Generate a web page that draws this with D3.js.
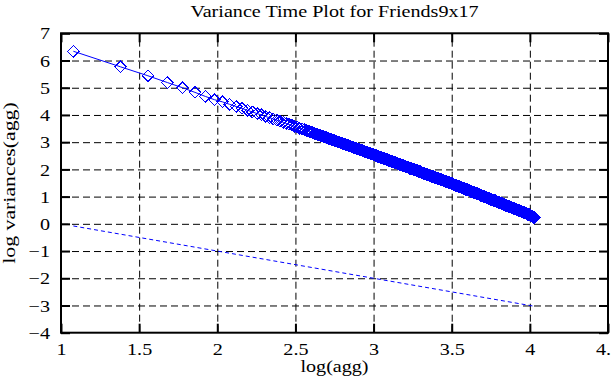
<!DOCTYPE html>
<html lang="en">
<head>
<meta charset="UTF-8">
<title>Variance Time Plot for Friends9x17</title>
<script src="https://d3js.org/d3.v7.min.js"></script>
<style>
body { margin: 0; background: #fff; }
</style>
</head>
<body>
<div id="chart"></div>
<script>
    // tick values
    const xTicks = [1, 1.5, 2, 2.5, 3, 3.5, 4, 4.5]
    const yTicks = [-4, -3, -2, -1, 0, 1, 2, 3, 4, 5, 6, 7]

    // log(agg) of every plotted point
    const logAgg = [
        1.079, 1.380, 1.556, 1.681, 1.778, 1.857, 1.924, 1.982, 2.033, 2.079,
        2.121, 2.158, 2.193, 2.225, 2.255, 2.283, 2.310, 2.335, 2.358, 2.380,
        2.401, 2.422, 2.441, 2.459, 2.477, 2.494, 2.511, 2.526, 2.542, 2.556,
        2.57, 2.58, 2.59, 2.60, 2.61, 2.62, 2.63, 2.64, 2.65, 2.66,
        2.67, 2.68, 2.69, 2.70, 2.71, 2.72, 2.73, 2.74, 2.75, 2.76,
        2.77, 2.78, 2.79, 2.80, 2.81, 2.82, 2.83, 2.84, 2.85, 2.86,
        2.87, 2.88, 2.89, 2.90, 2.91, 2.92, 2.93, 2.94, 2.95, 2.96,
        2.97, 2.98, 2.99,
        3.000, 3.005, 3.010, 3.015, 3.020, 3.025, 3.030, 3.035, 3.040, 3.045,
        3.050, 3.055, 3.060, 3.065, 3.070, 3.075, 3.080, 3.085, 3.090, 3.095,
        3.100, 3.105, 3.110, 3.115, 3.120, 3.125, 3.130, 3.135, 3.140, 3.145,
        3.150, 3.155, 3.160, 3.165, 3.170, 3.175, 3.180, 3.185, 3.190, 3.195,
        3.200, 3.205, 3.210, 3.215, 3.220, 3.225, 3.230, 3.235, 3.240, 3.245,
        3.250, 3.255, 3.260, 3.265, 3.270, 3.275, 3.280, 3.285, 3.290, 3.295,
        3.300, 3.305, 3.310, 3.315, 3.320, 3.325, 3.330, 3.335, 3.340, 3.345,
        3.350, 3.355, 3.360, 3.365, 3.370, 3.375, 3.380, 3.385, 3.390, 3.395,
        3.400, 3.405, 3.410, 3.415, 3.420, 3.425, 3.430, 3.435, 3.440, 3.445,
        3.450, 3.455, 3.460, 3.465, 3.470, 3.475, 3.480, 3.485, 3.490, 3.495,
        3.500, 3.505, 3.510, 3.515, 3.520, 3.525, 3.530, 3.535, 3.540, 3.545,
        3.550, 3.555, 3.560, 3.565, 3.570, 3.575, 3.580, 3.585, 3.590, 3.595,
        3.600, 3.605, 3.610, 3.615, 3.620, 3.625, 3.630, 3.635, 3.640, 3.645,
        3.650, 3.655, 3.660, 3.665, 3.670, 3.675, 3.680, 3.685, 3.690, 3.695,
        3.700, 3.705, 3.710, 3.715, 3.720, 3.725, 3.730, 3.735, 3.740, 3.745,
        3.750, 3.755, 3.760, 3.765, 3.770, 3.775, 3.780, 3.785, 3.790, 3.795,
        3.800, 3.805, 3.810, 3.815, 3.820, 3.825, 3.830, 3.835, 3.840, 3.845,
        3.850, 3.855, 3.860, 3.865, 3.870, 3.875, 3.880, 3.885, 3.890, 3.895,
        3.900, 3.905, 3.910, 3.915, 3.920, 3.925, 3.930, 3.935, 3.940, 3.945,
        3.950, 3.955, 3.960, 3.965, 3.970, 3.975, 3.980, 3.985, 3.990, 3.995,
        4.000, 4.005, 4.010, 4.015, 4.020, 4.025, 4.030
    ]

    // log variances(agg), same order as logAgg
    const logVar = [
        6.34, 5.77, 5.44, 5.19, 5.00, 4.83, 4.68, 4.56, 4.48, 4.39,
        4.31, 4.24, 4.17, 4.11, 4.05, 4.00, 3.94, 3.90, 3.85, 3.81,
        3.77, 3.73, 3.69, 3.65, 3.62, 3.58, 3.55, 3.52, 3.49, 3.46,
        3.43, 3.41, 3.39, 3.36, 3.35, 3.32, 3.30, 3.29, 3.26, 3.24,
        3.22, 3.21, 3.18, 3.16, 3.14, 3.12, 3.10, 3.07, 3.06, 3.03,
        3.01, 3.00, 2.97, 2.95, 2.93, 2.92, 2.89, 2.87, 2.85, 2.82,
        2.81, 2.79, 2.77, 2.74, 2.73, 2.70, 2.69, 2.66, 2.64, 2.63,
        2.60, 2.58, 2.56,
        2.54, 2.53, 2.52, 2.51, 2.50, 2.48, 2.47, 2.47, 2.46, 2.44,
        2.43, 2.43, 2.42, 2.40, 2.39, 2.38, 2.37, 2.36, 2.35, 2.34,
        2.33, 2.32, 2.31, 2.29, 2.28, 2.28, 2.27, 2.25, 2.24, 2.23,
        2.22, 2.21, 2.20, 2.19, 2.18, 2.17, 2.16, 2.15, 2.14, 2.13,
        2.12, 2.10, 2.09, 2.09, 2.08, 2.06, 2.05, 2.04, 2.03, 2.02,
        2.01, 2.00, 1.99, 1.98, 1.97, 1.96, 1.95, 1.93, 1.92, 1.92,
        1.91, 1.89, 1.88, 1.87, 1.86, 1.85, 1.84, 1.83, 1.82, 1.81,
        1.80, 1.79, 1.78, 1.76, 1.75, 1.75, 1.74, 1.72, 1.71, 1.70,
        1.69, 1.68, 1.67, 1.66, 1.65, 1.64, 1.63, 1.62, 1.61, 1.60,
        1.59, 1.57, 1.56, 1.56, 1.55, 1.53, 1.52, 1.51, 1.50, 1.49,
        1.48, 1.47, 1.46, 1.44, 1.43, 1.42, 1.41, 1.40, 1.39, 1.37,
        1.36, 1.35, 1.34, 1.33, 1.32, 1.31, 1.30, 1.28, 1.27, 1.26,
        1.25, 1.24, 1.23, 1.21, 1.20, 1.19, 1.18, 1.17, 1.16, 1.14,
        1.13, 1.12, 1.11, 1.10, 1.09, 1.08, 1.07, 1.05, 1.04, 1.03,
        1.02, 1.01, 1.00, 0.98, 0.97, 0.96, 0.95, 0.94, 0.93, 0.91,
        0.90, 0.89, 0.88, 0.87, 0.86, 0.85, 0.84, 0.82, 0.81, 0.80,
        0.79, 0.78, 0.77, 0.75, 0.74, 0.73, 0.72, 0.71, 0.70, 0.68,
        0.67, 0.66, 0.65, 0.64, 0.63, 0.62, 0.61, 0.59, 0.58, 0.57,
        0.56, 0.55, 0.54, 0.52, 0.51, 0.50, 0.49, 0.48, 0.47, 0.46,
        0.45, 0.43, 0.42, 0.41, 0.40, 0.39, 0.38, 0.36, 0.35, 0.34,
        0.33, 0.31, 0.29, 0.28, 0.26, 0.24, 0.22
    ]

    // slope -1 reference line
    const refLogAgg = [1.079, 4.03]
    const refLogVar = [-0.079, -3.03]

    const width = 611
    const height = 388
    const fontFamily = '"Liberation Serif", "Times New Roman", "DejaVu Serif", serif'
    const fontSize = 17.5
    const stretch = 1.15

    const x = d3.scaleLinear().domain([1, 4.5]).range([61, 608])
    const y = d3.scaleLinear().domain([-4, 7]).range([332.7, 33.3])
    const plotW = x(4.5) - x(1)
    const plotH = y(-4) - y(7)

    const svg = d3.select('#chart')
        .append('svg')
        .attr('width', width)
        .attr('height', height)

    // 网格线
    svg.append('g')
        .attr('transform', 'translate(0,' + y(-4) + ')')
        .call(d3.axisBottom(x).tickValues(xTicks.slice(1, -1)).tickSize(-plotH).tickFormat(''))
        .call(g => g.select('.domain').remove())
        .selectAll('line')
        .attr('stroke', '#000')
        .attr('stroke-dasharray', '7,4')

    svg.append('g')
        .attr('transform', 'translate(' + x(1) + ',0)')
        .call(d3.axisLeft(y).tickValues(yTicks.slice(1, -1)).tickSize(-plotW).tickFormat(''))
        .call(g => g.select('.domain').remove())
        .selectAll('line')
        .attr('stroke', '#000')
        .attr('stroke-dasharray', '7,4')

    // 参考线
    const refPts = refLogAgg.map((d, i) => [d, refLogVar[i]])
    svg.append('path')
        .datum(refPts)
        .attr('fill', 'none')
        .attr('stroke', '#0000ff')
        .attr('stroke-width', 1)
        .attr('stroke-dasharray', '4,3')
        .attr('d', d3.line().x(d => x(d[0])).y(d => y(d[1])))

    // 数据
    const pts = logAgg.map((d, i) => [d, logVar[i]])
    svg.append('path')
        .datum(pts)
        .attr('fill', 'none')
        .attr('stroke', '#0000ff')
        .attr('stroke-width', 1)
        .attr('d', d3.line().x(d => x(d[0])).y(d => y(d[1])))

    const r = 5.8
    const diamond = 'M0,' + (-r) + 'L' + r + ',0L0,' + r + 'L' + (-r) + ',0Z'
    svg.append('g')
        .selectAll('path')
        .data(pts)
        .enter()
        .append('path')
        .attr('d', diamond)
        .attr('transform', d => 'translate(' + x(d[0]) + ',' + y(d[1]) + ')')
        .attr('fill', 'none')
        .attr('stroke', '#0000ff')
        .attr('stroke-width', 1)
        .attr('shape-rendering', 'crispEdges')

    // 边框
    svg.append('rect')
        .attr('x', x(1))
        .attr('y', y(7))
        .attr('width', plotW)
        .attr('height', plotH)
        .attr('fill', 'none')
        .attr('stroke', '#000')
        .attr('stroke-width', 2)

    const tickLen = 9
    const fmt = d3.format('')

    function styleAxis(g) {
        g.select('.domain').remove()
        g.attr('font-family', fontFamily).attr('font-size', fontSize)
        g.selectAll('line').attr('stroke', '#000').attr('stroke-width', 2)
        g.selectAll('text')
            .attr('fill', '#000')
            .style('font-family', fontFamily)
            .style('font-size', fontSize + 'px')
            .attr('transform', 'scale(' + stretch + ',1)')
    }

    svg.append('g')
        .attr('transform', 'translate(0,' + y(-4) + ')')
        .call(d3.axisBottom(x).tickValues(xTicks).tickSize(-tickLen).tickPadding(10).tickFormat(fmt))
        .call(styleAxis)

    svg.append('g')
        .attr('transform', 'translate(0,' + y(7) + ')')
        .call(d3.axisTop(x).tickValues(xTicks).tickSize(-tickLen).tickFormat(''))
        .call(styleAxis)

    svg.append('g')
        .attr('transform', 'translate(' + x(1) + ',0)')
        .call(d3.axisLeft(y).tickValues(yTicks).tickSize(-tickLen).tickPadding(9.6).tickFormat(fmt))
        .call(styleAxis)

    svg.append('g')
        .attr('transform', 'translate(' + x(4.5) + ',0)')
        .call(d3.axisRight(y).tickValues(yTicks).tickSize(-tickLen).tickFormat(''))
        .call(styleAxis)

    // 标题和轴标签
    function label(txt, transform, size) {
        svg.append('text')
            .attr('text-anchor', 'middle')
            .attr('transform', transform)
            .attr('fill', '#000')
            .style('font-family', fontFamily)
            .style('font-size', size + 'px')
            .text(txt)
    }

    const cx = (x(1) + x(4.5)) / 2
    label('Variance Time Plot for Friends9x17', 'translate(' + cx + ',17) scale(' + stretch + ',1)', fontSize)
    label('log(agg)', 'translate(' + cx + ',372) scale(' + stretch + ',1)', fontSize)
    label('log variances(agg)', 'translate(14.5,' + ((y(-4) + y(7)) / 2) + ') rotate(-90) scale(1.32,1)', 16.5)
</script>
</body>
</html>
